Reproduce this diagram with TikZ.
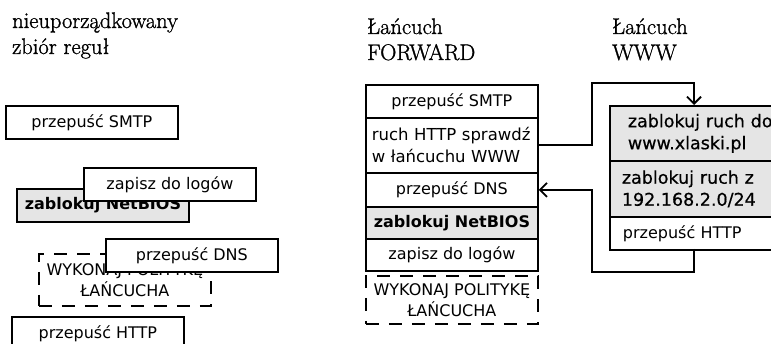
\documentclass[tikz,border=0pt]{standalone}
\usepackage{fontspec}
\newfontfamily\boxfont{DejaVu Sans}
\newfontfamily\medfont{DejaVu Sans}[FakeBold=0.6]
\newfontfamily\ttlfont{Latin Modern Roman}[FakeBold=1.2]
\usetikzlibrary{arrows.meta}
\begin{document}
\begin{tikzpicture}[x=1pt,y=-1pt,
  rule/.style={draw, line width=1.8pt, fill=white, minimum width=172pt, minimum height=33pt,
    inner sep=0pt, anchor=north west, align=center, font=\boxfont\fontsize{16}{21}\selectfont},
  greyrule/.style={rule, fill=black!10},
  dashrule/.style={rule, dash pattern=on 13pt off 10pt},
  leftrule/.style={rule, align=left},
  ttl/.style={anchor=base west, inner sep=0pt, font=\ttlfont\fontsize{22.5}{26}\selectfont},
  conn/.style={line width=1.8pt},
  tip/.style={-{Straight Barb[length=7pt,width=14pt,line width=1.8pt]}}
]
\useasboundingbox (0,0) rectangle (771,344);
\clip (0,0) rectangle (771,344);

% titles
\node[ttl] (t1a) at (12,28) {nieuporządkowany};
\node[ttl] (t1b) at (12,54) {zbiór reguł};
\node[ttl] (t2a) at (367,34) {Łańcuch};
\node[ttl] (t2b) at (367,60) {FORWARD};
\node[ttl] (t3a) at (612,34) {Łańcuch};
\node[ttl] (t3b) at (612,60) {WWW};

% unordered set
\node[rule] (l1) at (5,105) {przepuść SMTP};
\node[greyrule, font=\boxfont\bfseries\fontsize{16}{21}\selectfont] (l2) at (16,188) {zablokuj NetBIOS};
\node[rule] (l3) at (83,167) {zapisz do logów};
\node[dashrule, minimum height=52pt] (l4) at (38,253) {WYKONAJ POLITYKĘ\\ŁAŃCUCHA};
\node[rule] (l5) at (105,238) {przepuść DNS};
\node[rule] (l6) at (11,316) {przepuść HTTP};

% FORWARD chain
\node[rule] (f1) at (365,84) {przepuść SMTP};
\node[leftrule, minimum height=55pt, text width=160pt, inner xsep=6pt,
  font=\boxfont\fontsize{16.5}{22}\selectfont] (f2) at (365,117) {ruch HTTP sprawdź\\w łańcuchu WWW};
\node[rule, minimum height=34pt] (f3) at (365,172) {przepuść DNS};
\node[greyrule, minimum height=32pt, font=\boxfont\bfseries\fontsize{16}{21}\selectfont] (f4) at (365,206) {zablokuj NetBIOS};
\node[rule, minimum height=32pt] (f5) at (365,238) {zapisz do logów};
\node[dashrule, minimum height=48pt] (f6) at (365,275) {WYKONAJ POLITYKĘ\\ŁAŃCUCHA};

% WWW chain
\node[greyrule, align=left, minimum height=55pt, text width=160pt, inner xsep=18pt,
  font=\medfont\fontsize{17.5}{22}\selectfont] (w1) at (609,105) {zablokuj ruch do\\www.xlaski.pl};
\node[greyrule, align=left, minimum height=56pt, text width=166pt, inner xsep=12pt,
  font=\medfont\fontsize{17.5}{22}\selectfont] (w2) at (609,160) {zablokuj ruch z\\192.168.2.0/24};
\node[leftrule, minimum height=33pt, text width=165pt, inner xsep=13pt] (w3) at (609,216) {przepuść HTTP};

% connectors
\coordinate (wIn) at (694,105);
\coordinate (wOut) at (694,249);
\coordinate (b1) at (592,83);
\coordinate (b2) at (592,272);
\draw[conn, tip] (f2.east) -| (b1) -| (wIn);
\draw[conn, tip] (wOut) |- (b2) |- (f3.east);
\end{tikzpicture}
\end{document}
